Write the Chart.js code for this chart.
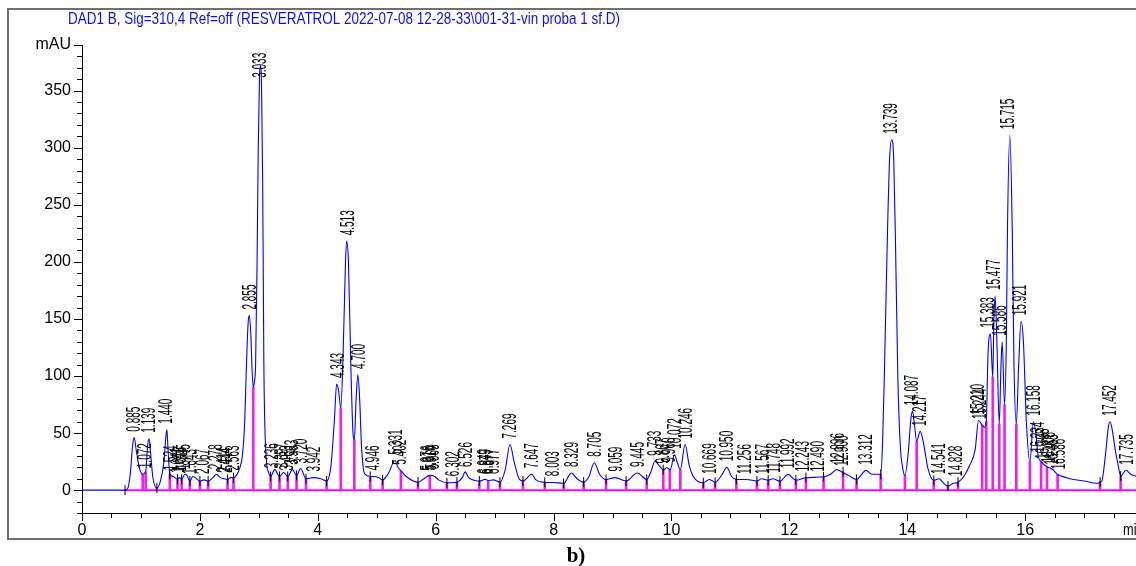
<!DOCTYPE html>
<html>
<head>
<meta charset="utf-8">
<script src="https://cdn.jsdelivr.net/npm/chart.js"></script>
<style>
  body { margin: 0; background: #fff; }
  #wrap { width: 1136px; height: 566px; }
</style>
</head>
<body>
<div id="wrap"><canvas id="graph" width="1136" height="566"></canvas></div>
<script>
// chromatogram signal (min, mAU)
const times = [0, 0.73, 0.78, 0.82, 0.86, 0.885, 0.92, 0.97, 1.03, 1.08, 1.115, 1.139, 1.16, 1.20, 1.27, 1.33, 1.39, 1.425, 1.44, 1.46,
  1.49, 1.55, 1.62, 1.65, 1.69, 1.745, 1.78, 1.83, 1.88, 1.92, 2.00, 2.07, 2.14, 2.22, 2.28, 2.35, 2.41, 2.47, 2.52, 2.57,
  2.62, 2.68, 2.72, 2.76, 2.79, 2.82, 2.84, 2.865, 2.885, 2.905, 2.925, 2.945, 2.97, 2.99, 3.01, 3.025, 3.045, 3.065, 3.085, 3.10,
  3.13, 3.17, 3.20, 3.27, 3.35, 3.42, 3.49, 3.57, 3.64, 3.71, 3.80, 3.92, 4.05, 4.15, 4.22, 4.28, 4.32, 4.35, 4.39, 4.43,
  4.47, 4.49, 4.52, 4.56, 4.60, 4.62, 4.65, 4.68, 4.71, 4.74, 4.77, 4.80, 4.89, 4.97, 5.03, 5.10, 5.20, 5.31, 5.36, 5.41,
  5.50, 5.70, 5.80, 5.90, 5.97, 6.05, 6.19, 6.36, 6.45, 6.50, 6.56, 6.61, 6.74, 6.84, 6.89, 6.98, 7.09, 7.18, 7.26, 7.33,
  7.42, 7.48, 7.63, 7.70, 7.83, 8.00, 8.17, 8.30, 8.40, 8.51, 8.60, 8.69, 8.78, 8.89, 9.04, 9.23, 9.42, 9.58, 9.65, 9.72,
  9.80, 9.86, 9.92, 9.98, 10.05, 10.10, 10.15, 10.23, 10.30, 10.37, 10.54, 10.64, 10.74, 10.85, 10.94, 11.02, 11.10, 11.28, 11.45, 11.53,
  11.64, 11.72, 11.84, 11.98, 12.11, 12.28, 12.58, 12.70, 12.80, 12.89, 13.00, 13.14, 13.30, 13.40, 13.55, 13.58, 13.61, 13.66, 13.70, 13.735,
  13.77, 13.80, 13.84, 13.88, 13.92, 13.96, 14.02, 14.06, 14.09, 14.12, 14.16, 14.22, 14.28, 14.35, 14.45, 14.54, 14.60, 14.69, 14.78, 14.86,
  14.96, 15.06, 15.15, 15.21, 15.27, 15.31, 15.34, 15.37, 15.41, 15.45, 15.47, 15.49, 15.52, 15.56, 15.59, 15.61, 15.65, 15.68, 15.70, 15.74,
  15.78, 15.81, 15.85, 15.89, 15.93, 15.97, 16.02, 16.08, 16.14, 16.18, 16.22, 16.27, 16.37, 16.45, 16.55, 16.58, 16.76, 17.00, 17.22, 17.30,
  17.36, 17.41, 17.44, 17.48, 17.52, 17.58, 17.62, 17.71, 17.79, 17.88];
const signal = [0, 0, 2, 15, 40, 46, 35, 20, 14, 16, 40, 45, 35, 12, 2, 8, 25, 48, 53, 35,
  14, 12, 9.5, 11, 9.5, 14, 13, 8, 12, 11, 8, 9, 8, 11, 14, 11, 10, 9.5, 11, 11,
  13, 20, 30, 60, 110, 148, 153, 135, 105, 90, 95, 110, 200, 300, 360, 372, 355, 270, 110, 60,
  25, 15, 12, 18, 12, 15.5, 12, 18, 13, 19, 10, 11, 10, 8, 20, 60, 93, 88, 72, 120,
  200, 218, 200, 110, 48, 44, 80, 101, 80, 40, 20, 14, 12, 12, 11, 9, 15, 26, 20, 17,
  12, 7, 10, 13, 12.5, 9, 6.5, 7, 11, 16, 11, 9.4, 8, 9.5, 8.5, 9, 7, 18, 40, 25,
  9.4, 8, 14, 9, 7, 6.7, 6, 15, 10, 7, 12, 24, 14, 9.4, 11, 8, 15, 9.4, 16, 25.4,
  21, 18, 19.6, 18, 31, 24, 18, 40, 22, 12, 6.5, 9.4, 7, 13, 20, 12, 9.4, 9.4, 8, 10,
  8.8, 10, 8, 13.8, 8.8, 10.9, 11.7, 14, 18, 16, 13, 9.4, 17.3, 14, 14, 40, 99, 217, 290, 307,
  290, 217, 99, 40, 20, 13, 35, 62, 69, 58, 43, 51.5, 40, 19, 8.5, 10, 7, 3.6, 6, 7,
  12, 22, 35, 61, 57, 55, 60, 120, 137, 99, 150, 170, 130, 58, 110, 130, 75, 130, 230, 311,
  230, 110, 58, 110, 148, 130, 60, 25, 60, 50, 30, 25, 20.5, 18.7, 13.8, 13, 10, 8, 6, 8,
  30, 55, 60, 52, 38, 21, 12.3, 17.5, 14, 12.3];

// integration drop lines (min, mAU) and whether a black event tick sits on them
const dropTimes = [0.73, 1.03, 1.08, 1.27, 1.49, 1.62, 1.69, 1.83, 2.00, 2.14, 2.47, 2.57, 2.905, 3.20, 3.35, 3.49, 3.64, 3.80, 4.15, 4.39,
  4.62, 4.89, 5.10, 5.41, 5.70, 5.90, 6.19, 6.36, 6.74, 6.89, 7.09, 7.48, 7.85, 8.17, 8.51, 8.89, 9.23, 9.58, 9.86, 9.97,
  10.15, 10.54, 10.74, 11.10, 11.45, 11.64, 11.84, 12.11, 12.28, 12.58, 12.91, 13.14, 13.55, 13.96, 14.16, 14.45, 14.69, 14.86, 15.27, 15.34,
  15.45, 15.56, 15.65, 15.85, 16.08, 16.27, 16.37, 16.55, 17.27, 17.62];
const dropHeights = [0, 14, 16, 2, 14, 9.5, 9.5, 8, 8, 8, 9.5, 11, 90, 12, 12, 12, 13, 10, 8, 72,
  44, 12, 9, 17, 7, 13, 6.5, 7, 8, 8.5, 7, 8, 7, 6, 7, 9.4, 8, 9.4, 18, 18,
  18, 6.5, 7, 9.4, 8, 8.8, 8, 8.8, 10.9, 11.7, 16, 9.4, 14, 13, 43, 8.5, 3.6, 7, 57, 60,
  99, 58, 75, 58, 25, 25, 20.5, 13.8, 7, 12.3];
const dropMarked = [1, 0, 0, 1, 1, 1, 1, 1, 1, 1, 1, 1, 0, 1, 1, 1, 1, 1, 1, 0,
  0, 1, 1, 0, 1, 0, 1, 1, 1, 0, 1, 1, 1, 1, 1, 1, 1, 1, 1, 0,
  0, 1, 1, 1, 1, 1, 1, 1, 1, 1, 1, 1, 1, 0, 0, 1, 1, 1, 0, 0,
  0, 0, 0, 0, 0, 0, 0, 0, 1, 1];

// retention time labels and the height (mAU) their text starts from
const peakTimes = [0.885, 1.072, 1.139, 1.440, 1.524, 1.641, 1.678, 1.745, 1.843, 2.067, 2.278, 2.414, 2.444, 2.563, 2.855, 3.033,
  3.236, 3.397, 3.483, 3.563, 3.720, 3.942, 4.343, 4.513, 4.700, 4.946, 5.331, 5.402, 5.876, 5.916, 5.969, 6.302, 6.526,
  6.849, 6.877, 6.977, 7.269, 7.647, 8.003, 8.329, 8.705, 9.059, 9.445, 9.733, 9.867, 9.960, 10.072, 10.246, 10.669, 10.950,
  11.256, 11.567, 11.748, 11.992, 12.243, 12.490, 12.836, 12.900, 13.312, 13.739, 14.087, 14.217, 14.541, 14.828, 15.210, 15.244,
  15.383, 15.477, 15.586, 15.715, 15.921, 16.158, 16.234, 16.308, 16.408, 16.463, 16.586, 17.452, 17.735];
const labelBase = [46, 14, 45, 53, 12, 10, 11, 13, 9, 9, 13, 10, 10, 12, 153, 356,
  14, 14, 12, 17, 18, 11, 93, 218, 101, 12, 26, 17, 12, 12, 13, 7, 15,
  9, 9, 9, 40, 14, 7, 15, 24, 11, 15, 25, 18, 19, 31, 40, 9, 20,
  9, 9, 10, 14, 11, 11, 18, 16, 17, 307, 69, 51, 9, 7, 61, 57,
  137, 170, 130, 311, 148, 60, 28, 22, 19, 17, 13, 60, 17];

const titleText = 'DAD1 B, Sig=310,4 Ref=off (RESVERATROL 2022-07-08 12-28-33\\001-31-vin proba 1 sf.D)';

const decor = {
    id: 'decor',
    afterDatasetsDraw(chart) {
        const {ctx, scales: {x, y}} = chart;
        ctx.save();
        ctx.strokeStyle = '#000';
        ctx.lineWidth = 1;
        ctx.beginPath();
        for (let v = -20; v <= 390; v += 10) {
            const py = Math.round(y.getPixelForValue(v)) + 0.5;
            const len = (v % 50 === 0 || v === 390) ? 8 : 5;
            ctx.moveTo(x.left - len, py);
            ctx.lineTo(x.left, py);
        }
        for (let v = 0; v <= 17.5; v += 0.5) {
            const px = Math.round(x.getPixelForValue(v)) + 0.5;
            const len = v % 2 === 0 ? 8 : 5;
            ctx.moveTo(px, y.bottom);
            ctx.lineTo(px, y.bottom + len);
        }
        ctx.stroke();

        // rotated retention times
        ctx.fillStyle = '#000';
        ctx.font = '20px "Liberation Sans", Arial, sans-serif';
        ctx.textAlign = 'left';
        ctx.textBaseline = 'middle';
        peakTimes.forEach(function(t, i) {
            ctx.save();
            ctx.translate(x.getPixelForValue(t), y.getPixelForValue(labelBase[i]) - 6);
            ctx.rotate(-Math.PI / 2);
            ctx.scale(0.5, 1);
            ctx.fillText(t.toFixed(3), 0, 0);
            ctx.restore();
        });
        ctx.restore();
    },
    afterDraw(chart) {
        const ctx = chart.ctx;
        ctx.save();
        // frame
        ctx.strokeStyle = '#707070';
        ctx.lineWidth = 2;
        ctx.strokeRect(8, 9, 1150, 530);
        // title
        ctx.fillStyle = '#1010e6';
        ctx.font = '17px "Liberation Sans", Arial, sans-serif';
        ctx.textBaseline = 'middle';
        ctx.textAlign = 'left';
        const w = ctx.measureText(titleText).width;
        ctx.save();
        ctx.translate(68, 19);
        ctx.scale(552 / w, 1);
        ctx.fillText(titleText, 0, 0);
        ctx.restore();
        // x unit
        ctx.fillStyle = '#000';
        ctx.font = '16px "Liberation Sans", Arial, sans-serif';
        ctx.save();
        ctx.translate(1123, 531);
        ctx.scale(0.8, 1);
        ctx.fillText('min', 0, 0);
        ctx.restore();
        // panel letter
        ctx.font = 'bold 21px "Liberation Serif", "Times New Roman", serif';
        ctx.textAlign = 'center';
        ctx.textBaseline = 'alphabetic';
        ctx.fillText('b)', 576, 562);
        ctx.restore();
    }
};

new Chart(
    document.querySelector('#graph'),
{
    type: 'line',
    data: {
        datasets: [{
            type: 'scatter',
            data: dropTimes.map((t, i) => ({x: t, y: dropHeights[i]})).filter((p, i) => dropMarked[i]),
            pointStyle: 'line',
            rotation: 90,
            radius: 5,
            borderColor: '#000',
            borderWidth: 1,
            showLine: false
        },
        {
            label: 'DAD1 B',
            data: times.map((t, i) => ({x: t, y: signal[i]})),
            borderColor: '#0000ff',
            borderWidth: 1.1,
            pointRadius: 0,
            cubicInterpolationMode: 'monotone'
        },
        {
            type: 'bar',
            data: dropTimes.map((t, i) => ({x: t, y: dropHeights[i]})),
            backgroundColor: '#f020f0',
            barThickness: 2
        },
        {
            data: [{x: 0.73, y: 0}, {x: 17.88, y: 0}],
            borderColor: '#ff00ff',
            borderWidth: 2,
            pointRadius: 0
        }]
    },
    options: {
        responsive: false,
        animation: false,
        events: [],
        layout: {
            autoPadding: false,
            padding: {top: 45, left: 0, right: 0, bottom: 0}
        },
        plugins: {
            legend: {display: false},
            tooltip: {enabled: false}
        },
        scales: {
            x: {
                type: 'linear',
                min: 0,
                max: 17.88,
                offset: false,
                afterFit: s => { s.height = 53; },
                grid: {display: false, drawTicks: true, tickLength: 8, offset: false},
                border: {display: true, color: '#000', width: 1},
                ticks: {
                    stepSize: 0.5,
                    autoSkip: false,
                    maxRotation: 0,
                    padding: 0,
                    color: '#000',
                    font: {family: '"Liberation Sans", Arial, sans-serif', size: 16},
                    callback: v => (v % 2 === 0 ? String(v) : '')
                }
            },
            y: {
                type: 'linear',
                min: -20,
                max: 390,
                afterFit: s => { s.width = 82; },
                grid: {display: false, drawTicks: false},
                border: {display: true, color: '#000', width: 1},
                ticks: {
                    stepSize: 10,
                    autoSkip: false,
                    maxTicksLimit: 100,
                    padding: 11,
                    color: '#000',
                    font: {family: '"Liberation Sans", Arial, sans-serif', size: 16},
                    callback: v => (v === 390 ? 'mAU' : (v >= 0 && v % 50 === 0 ? String(v) : ''))
                }
            }
        }
    },
    plugins: [decor]
});
</script>
</body>
</html>
